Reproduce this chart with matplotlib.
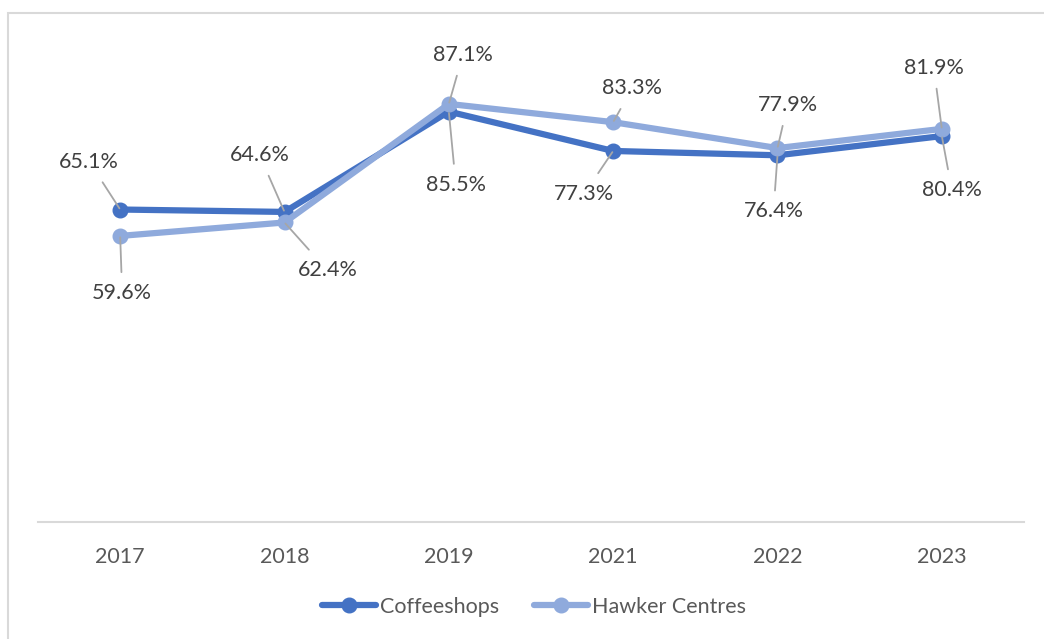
import matplotlib.pyplot as plt
from matplotlib.patches import Rectangle
import numpy as np

years = ["2017", "2018", "2019", "2021", "2022", "2023"]
coffeeshops = [65.1, 64.6, 85.5, 77.3, 76.4, 80.4]
hawker = [59.6, 62.4, 87.1, 83.3, 77.9, 81.9]

# label offsets (pixels) from each point
coffee_off = [(-31, 48), (-25, 57), (7, -73), (-29, -43), (-4, -56), (10, -54)]
hawker_off = [(2, -57), (43, -48), (14, 49), (19, 34), (10, 43), (-8, 61)]

DARK = "#4472C4"
LIGHT = "#8FAADC"
GRID = "#D9D9D9"
TEXT = "#404040"
FS = 15.5

plt.rcParams["font.family"] = ["Lato", "DejaVu Sans"]

fig = plt.figure(figsize=(10.44, 6.39), dpi=100)
ax = fig.add_axes([38 / 1044, 1 - 522 / 639, 986 / 1044, 480 / 639])

x = np.arange(len(years))
ax.plot(x, coffeeshops, color=DARK, lw=4.5, marker="o", ms=10.5,
        label="Coffeeshops", zorder=3, solid_capstyle="round")
ax.plot(x, hawker, color=LIGHT, lw=4.5, marker="o", ms=10.5,
        label="Hawker Centres", zorder=4, solid_capstyle="round")


def add_labels(vals, offsets):
    for xi, v, (dx, dy) in zip(x, vals, offsets):
        ax.annotate(f"{v:.1f}%", (xi, v), xytext=(dx, dy),
                    textcoords="offset pixels", ha="center", va="center",
                    fontsize=FS, color=TEXT, zorder=6,
                    bbox=dict(boxstyle="square,pad=0.5", fc="none", ec="none"),
                    arrowprops=dict(arrowstyle="-", color="#A6A6A6", lw=1.3,
                                    shrinkA=0, shrinkB=1))


add_labels(coffeeshops, coffee_off)
add_labels(hawker, hawker_off)

ax.set_xlim(-0.5, len(years) - 0.5)
ax.set_ylim(0, 100)
ax.set_xticks(x)
ax.set_xticklabels(years, fontsize=FS, color="#595959")
ax.set_yticks([])
ax.tick_params(axis="x", length=0, pad=18)
for side in ["top", "right", "left"]:
    ax.spines[side].set_visible(False)
ax.spines["bottom"].set_color(GRID)
ax.spines["bottom"].set_linewidth(1.5)

fig.legend(loc="center", bbox_to_anchor=(534 / 1044, 1 - 607 / 639), ncol=2,
           frameon=False, fontsize=FS, handlelength=2.5, handletextpad=0.2,
           columnspacing=1.6, labelcolor="#595959")

# chart border
fig.patches.append(Rectangle((8 / 1044, -0.1), 1.2, 1 - 13 / 639 + 0.1,
                             transform=fig.transFigure, fill=False,
                             ec=GRID, lw=1.5))

fig.savefig("out.png", dpi=100)
